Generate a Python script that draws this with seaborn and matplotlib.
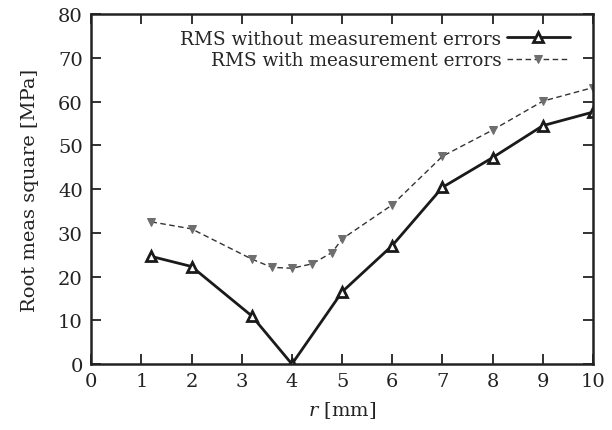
import pandas as pd
import numpy as np
import matplotlib
matplotlib.use("Agg")
import matplotlib.pyplot as plt
import seaborn as sns

# data
r_without = [1.2, 2, 3.2, 4, 5, 6, 7, 8, 9, 10]
rms_without = [24.6, 22.3, 11.0, 0.0, 16.5, 27.1, 40.4, 47.2, 54.5, 57.6]

r_with = [1.2, 2, 3.2, 3.6, 4, 4.4, 4.8, 5, 6, 7, 8, 9, 10]
rms_with = [32.5, 30.9, 24.0, 22.1, 21.9, 22.9, 25.5, 28.6, 36.4, 47.5, 53.5, 60.1, 63.2]

label_without = "RMS without measurement errors"
label_with = "RMS with measurement errors"

sns.set_style("ticks")
plt.rcParams['font.family'] = ['DejaVu Serif']
plt.rcParams['mathtext.fontset'] = 'dejavuserif'

fig = plt.figure(figsize=(6.12, 4.31), dpi=100)
ax = fig.add_axes([0.149, 0.153, 0.820, 0.812])

sns.lineplot(x=r_without, y=rms_without, ax=ax, color='#1a1a1a', linewidth=2.0,
             marker='^', markersize=7, markerfacecolor='white',
             markeredgecolor='#1a1a1a', markeredgewidth=2.0, label=label_without)
sns.lineplot(x=r_with, y=rms_with, ax=ax, color='#333333', linewidth=1.0,
             linestyle=(0, (4, 2.5)), marker='v', markersize=6,
             markerfacecolor='#6e6e6e', markeredgecolor='#6e6e6e',
             label=label_with)

ax.set_xlim(0, 10)
ax.set_ylim(0, 80)
ax.set_xticks(range(0, 11))
ax.set_yticks(range(0, 81, 10))
ax.tick_params(direction='in', length=7, width=1.3, top=True, right=True,
               labelsize=14, colors='#222222', pad=6)
for s in ax.spines.values():
    s.set_linewidth(1.8)
    s.set_color('#222222')

ax.set_xlabel("$r$ [mm]", fontsize=14, color='#222222', labelpad=6)
ax.set_ylabel("Root meas square [MPa]", fontsize=14, color='#222222', labelpad=14)

leg = ax.legend(loc='upper right', bbox_to_anchor=(0.985, 1.0), frameon=False,
                markerfirst=False, fontsize=13.3, handlelength=3.4,
                handletextpad=0.3, labelspacing=0.2, borderaxespad=0.45)

fig.savefig("out.png", dpi=100)
